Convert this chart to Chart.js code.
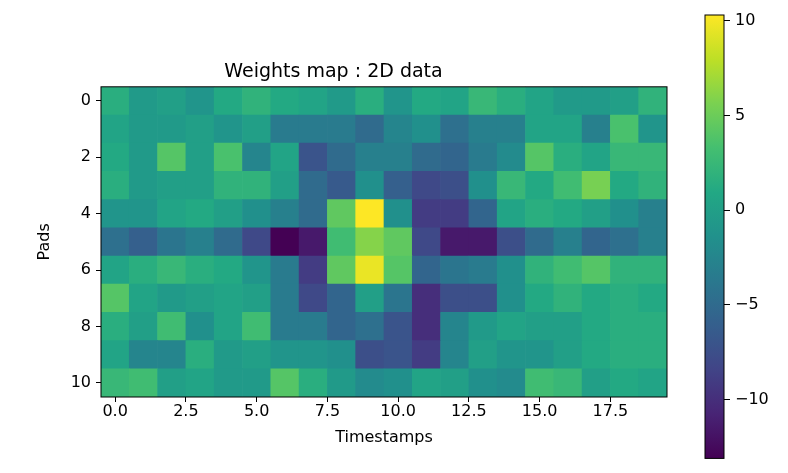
<!DOCTYPE html>
<html>
<head>
<meta charset="utf-8">
<script src="https://cdn.jsdelivr.net/npm/chart.js@4"></script>
<style>
  html, body { margin: 0; padding: 0; background: #fff; }
  #wrap { position: relative; width: 788px; height: 473px; }
  #mainBox { position: absolute; left: 0; top: 0; width: 690px; height: 473px; }
  #barBox { position: absolute; left: 690px; top: 0; width: 98px; height: 473px; }
</style>
</head>
<body>
<div id="wrap">
  <div id="mainBox"><canvas id="heatmap"></canvas></div>
  <div id="barBox"><canvas id="colorbar"></canvas></div>
</div>
<script>
const pads = [0, 1, 2, 3, 4, 5, 6, 7, 8, 9, 10];
const timestamps = [0, 1, 2, 3, 4, 5, 6, 7, 8, 9, 10, 11, 12, 13, 14, 15, 16, 17, 18, 19];

// one row per pad, one value per timestamp
const weights = [
  [1.5, -0.5, 0, -1, 1, 2, 1, 0.5, -0.5, 1.5, -1, 1, 0.5, 2.5, 1.5, 0.5, -0.5, -0.5, 0, 2],
  [0.5, -0.5, -0.5, 0, -1, 0, -3.5, -3.5, -3.5, -5, -2.5, -1.5, -4.5, -3, -3, 0.5, 0.5, -3, 3.5, -1],
  [1, -0.5, 4, 0, 3.5, -2.5, 0.5, -7, -5, -3, -3, -5, -5.5, -3.5, -2, 4, 1.5, 0.5, 2.5, 2.5],
  [1.5, -0.5, 0, 0, 2, 2, 0, -5, -6.5, -1.5, -6, -8, -7.5, -1.5, 2.5, 1, 3, 5.5, 1, 2],
  [-1, -1, 0.5, 1, 0, -1.5, -3, -5, 4.5, 10.3, -1.5, -9, -9, -5.5, 0.5, 1.5, 1, 0, -1.5, -3],
  [-4.5, -6, -4, -3, -5, -8, -13.1, -11.5, 3, 6, 4.5, -8, -11.5, -11.5, -7.5, -5, -3, -5.5, -4.5, -3],
  [0.5, 1.5, 2.5, 1.5, 1, -1, -3.5, -9, 4.5, 9.6, 4, -5.5, -4, -3.5, -1.5, 2, 3, 4, 2, 2],
  [4, 0.5, -0.5, 0, 0.5, 0, -3.5, -8, -5.5, 0, -4, -10, -7.5, -7.5, -1.5, 1, 2, 1, 1.5, 1],
  [1.5, 0, 3, -1.5, 0.5, 3, -3.5, -3.5, -5.5, -4.5, -7, -10, -2.5, -0.5, 0.5, 0, 0, 1, 1.5, 1.5],
  [0.5, -2.5, -2.5, 1.5, -0.5, 0, -1, -1, -1.5, -7.5, -7, -9, -2.5, 0, -1, -1, 0, 1, 1.5, 1.5],
  [2.5, 3, 0, 0.5, -0.5, -0.5, 4, 1.5, -0.5, -2, -1.5, 0.5, 0, -1.5, -2, 3, 2.5, 0, 1, 0.5]
];

const xTicks = [0, 2.5, 5, 7.5, 10, 12.5, 15, 17.5];
const yTicks = [0, 2, 4, 6, 8, 10];
const cbTicks = [-10, -5, 0, 5, 10];

const viridis = ['#440154', '#482475', '#414487', '#355f8d', '#2a788e', '#21918c',
                 '#22a884', '#44bf70', '#7ad151', '#bddf26', '#fde725'];

function hexToRgb(h) {
  return [parseInt(h.slice(1, 3), 16), parseInt(h.slice(3, 5), 16), parseInt(h.slice(5, 7), 16)];
}

function colorAt(t) {
  t = Math.max(0, Math.min(1, t));
  const pos = t * (viridis.length - 1);
  const i = Math.min(Math.floor(pos), viridis.length - 2);
  const f = pos - i;
  const a = hexToRgb(viridis[i]), b = hexToRgb(viridis[i + 1]);
  const c = a.map((v, k) => Math.round(v + (b[k] - v) * f));
  return `rgb(${c[0]},${c[1]},${c[2]})`;
}

const allValues = weights.flat();
const vmin = Math.min(...allValues);
const vmax = Math.max(...allValues);

const cells = [];
const cellColors = [];
pads.forEach((p, r) => {
  timestamps.forEach((t, c) => {
    cells.push({ x: t, y: [p - 0.5, p + 0.5] });
    cellColors.push(colorAt((weights[r][c] - vmin) / (vmax - vmin)));
  });
});

const font = { family: 'DejaVu Sans', size: 16 };
const minus = v => String(v).replace('-', '\u2212');

const frame = {
  id: 'frame',
  afterDatasetsDraw(chart) {
    const { ctx, chartArea: a } = chart;
    ctx.save();
    ctx.strokeStyle = '#000';
    ctx.lineWidth = 1;
    ctx.strokeRect(a.left, a.top, a.right - a.left, a.bottom - a.top);
    ctx.restore();
  }
};

new Chart(document.getElementById('heatmap'), {
  type: 'bar',
  data: {
    datasets: [{
      data: cells,
      backgroundColor: cellColors,
      borderWidth: 0,
      barPercentage: 1,
      categoryPercentage: 1
    }]
  },
  plugins: [frame],
  options: {
    animation: false,
    responsive: true,
    maintainAspectRatio: false,
    layout: { padding: { left: 0, right: 23, top: 0, bottom: 0 } },
    plugins: {
      legend: { display: false },
      tooltip: { enabled: false },
      title: {
        display: true,
        text: 'Weights map : 2D data',
        color: '#000',
        font: { family: 'DejaVu Sans', size: 19, weight: 'normal' },
        padding: { top: 61, bottom: 3 }
      }
    },
    scales: {
      x: {
        type: 'linear',
        offset: false,
        min: -0.5,
        max: 19.5,
        afterBuildTicks: s => { s.ticks = xTicks.map(v => ({ value: v })); },
        afterFit: s => { s.height = 76; },
        ticks: { callback: v => v.toFixed(1), color: '#000', font, padding: 0, maxRotation: 0, autoSkip: false },
        grid: { drawOnChartArea: false, drawTicks: true, tickLength: 5, tickColor: '#000', offset: false },
        border: { display: false },
        title: { display: true, text: 'Timestamps', color: '#000', font, padding: { top: 0, bottom: 26 } }
      },
      y: {
        type: 'linear',
        reverse: true,
        min: -0.5,
        max: 10.5,
        afterBuildTicks: s => { s.ticks = yTicks.map(v => ({ value: v })); },
        afterFit: s => { s.width = 101; },
        ticks: { color: '#000', font, padding: 5, autoSkip: false },
        grid: { drawOnChartArea: false, drawTicks: true, tickLength: 5, tickColor: '#000' },
        border: { display: false },
        title: { display: true, text: 'Pads', color: '#000', font, padding: { top: 35, bottom: 0 } }
      }
    }
  }
});

new Chart(document.getElementById('colorbar'), {
  type: 'bar',
  data: {
    labels: ['scale'],
    datasets: [{
      data: [[vmin, vmax]],
      backgroundColor: ctx => {
        const a = ctx.chart.chartArea;
        if (!a) return viridis[5];
        const g = ctx.chart.ctx.createLinearGradient(0, a.bottom, 0, a.top);
        viridis.forEach((c, i) => g.addColorStop(i / (viridis.length - 1), c));
        return g;
      },
      borderWidth: 0,
      barPercentage: 1,
      categoryPercentage: 1
    }]
  },
  plugins: [frame],
  options: {
    animation: false,
    responsive: true,
    maintainAspectRatio: false,
    layout: { padding: { left: 15, right: 0, top: 15, bottom: 5 } },
    plugins: { legend: { display: false }, tooltip: { enabled: false } },
    scales: {
      x: { display: false },
      y: {
        position: 'right',
        min: vmin,
        max: vmax,
        afterBuildTicks: s => { s.ticks = cbTicks.map(v => ({ value: v })); },
        afterFit: s => { s.width = 64; },
        ticks: { callback: minus, color: '#000', font, padding: 5, autoSkip: false },
        grid: { drawOnChartArea: false, drawTicks: true, tickLength: 6, tickColor: '#000' },
        border: { display: false }
      }
    }
  }
});
</script>
</body>
</html>
